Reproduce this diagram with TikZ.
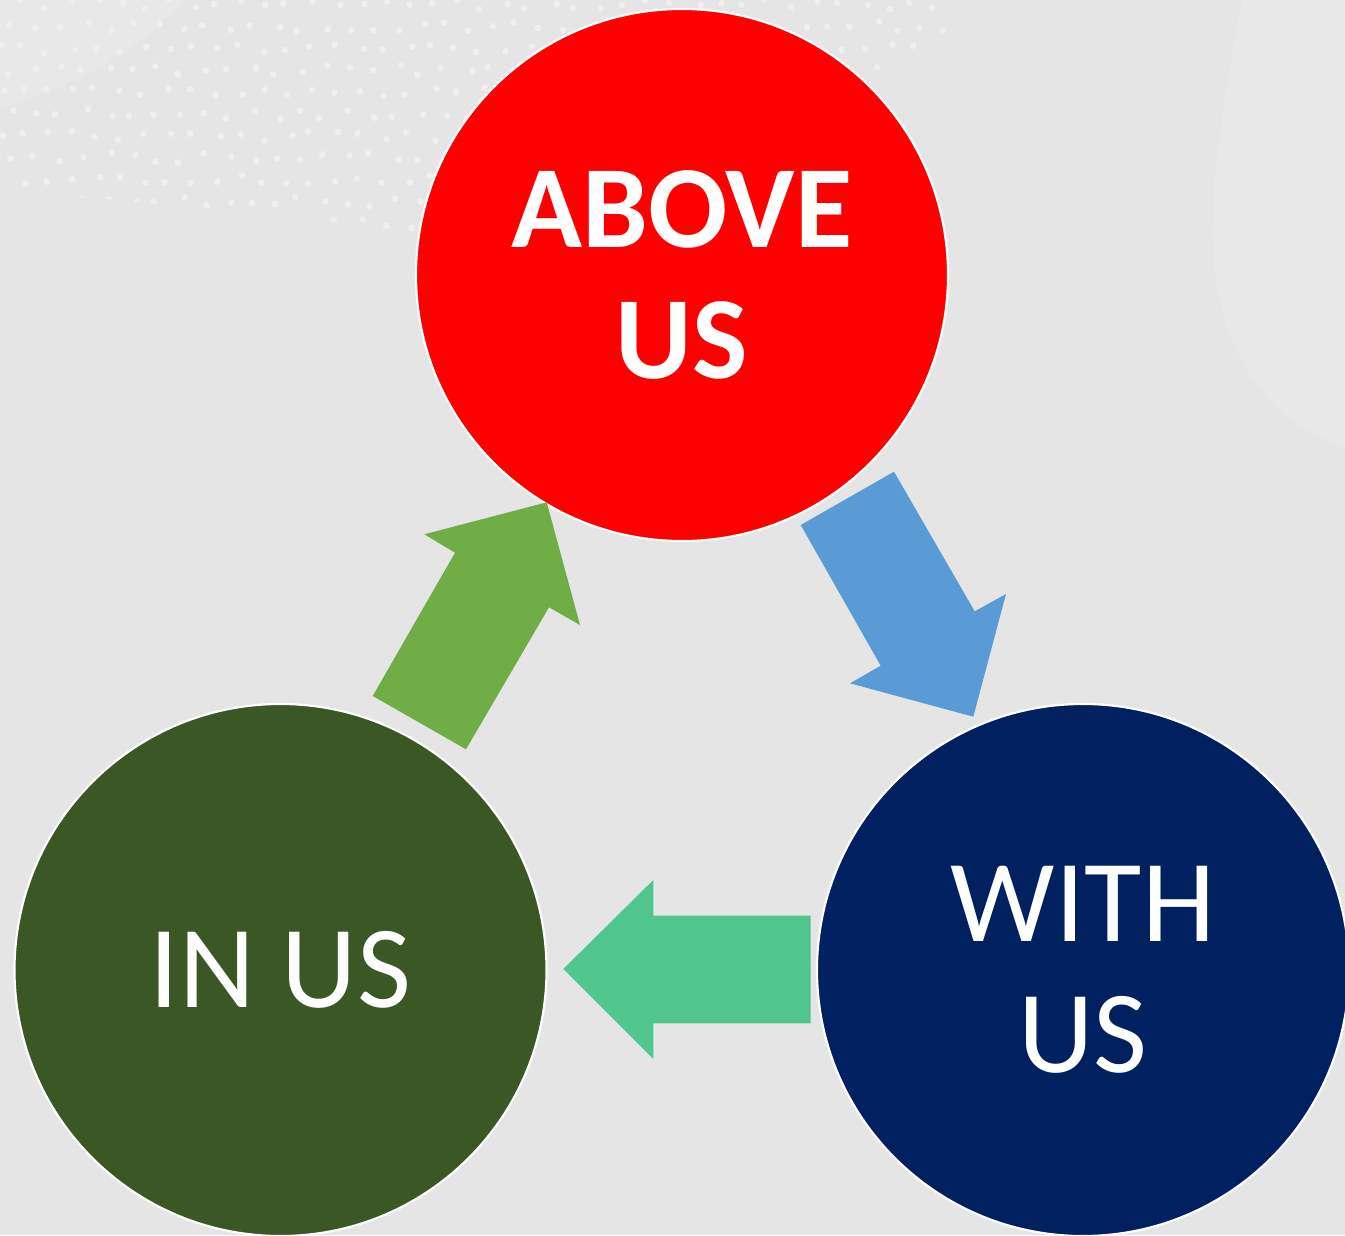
\documentclass[tikz,border=0pt]{standalone}
\usepackage{fontspec}
\setmainfont{Carlito}

\definecolor{bggray}{RGB}{229,229,229}
\definecolor{bglight}{RGB}{232,232,232}
\definecolor{dotgray}{RGB}{239,239,239}
\definecolor{aboveRed}{RGB}{255,0,0}
\definecolor{inGreen}{RGB}{59,87,37}
\definecolor{withNavy}{RGB}{0,32,96}
\definecolor{upGreen}{RGB}{112,173,71}
\definecolor{downBlue}{RGB}{91,155,213}
\definecolor{backTeal}{RGB}{80,198,142}

\tikzset{every picture/.style={line width=0.75pt}}
\tikzset{
  bubble/.style={circle, draw=white, line width=1.6pt, minimum size=399pt, inner sep=0pt,
    text=white, align=center, font=\fontsize{88}{98}\selectfont},
}

\begin{document}
\begin{tikzpicture}[x=0.75pt,y=0.75pt,yscale=-1,xscale=1]
	\useasboundingbox (0,0) rectangle (1345,1235);
	
	%Shape: Background
	\fill [bggray] (0,0) rectangle (1345,1235);
	%Shape: light corner top left
	\fill [bglight] (0,0) -- (186,0) .. controls (130,55) and (60,95) .. (0,107) -- cycle ;
	%Shape: light curve right
	\fill [bglight] (1242,0) .. controls (1225,90) and (1210,180) .. (1213,250) .. controls (1216,340) and (1260,420) .. (1345,447) -- (1345,0) -- cycle ;
	
	%Shape: dots top left
	\begin{scope}
		\clip (0,0) -- (945,0) -- (945,40) -- (700,150) -- (420,236) -- (300,216) -- (0,190) -- cycle ;
		\pgfmathsetseed{17}
		\foreach \i in {0,...,10}{
			\foreach \j in {0,...,39}{
				\fill [dotgray] ({\j*24+mod(\i,2)*12+rand*5},{\i*22+4+rand*5}) circle (3.3) ;
			}
		}
	\end{scope}
	
	%Shape: Circles
	\node [bubble, fill=aboveRed, font=\fontsize{88}{98}\selectfont\bfseries] (above) at (682,275) {ABOVE\\US};
	\node [bubble, fill=inGreen] (in) at (280.5,970) {IN US};
	\node [bubble, fill=withNavy] (with) at (1083,970) {WITH\\US};
	
	%Shape: Up Arrow [in us -> above us]
	\fill [upGreen] (372.7,696) -- (455,552.7) -- (424.3,534.3) -- (546.7,502.3) -- (580,625) -- (549,607.3) -- (466,749.3) -- cycle ;
	%Shape: Down Arrow [above us -> with us]
	\fill [downBlue] (800.7,525) -- (894,471.7) -- (974.7,611.3) -- (1006,594) -- (973.3,716.7) -- (850,683.3) -- (880.7,665.7) -- cycle ;
	%Shape: Left Arrow [with us -> in us]
	\fill [backTeal] (810.7,915.7) -- (653.3,915.7) -- (653.3,880) -- (563.3,969) -- (653.3,1059) -- (653.3,1023.3) -- (810.7,1023.3) -- cycle ;
	
\end{tikzpicture}
\end{document}
